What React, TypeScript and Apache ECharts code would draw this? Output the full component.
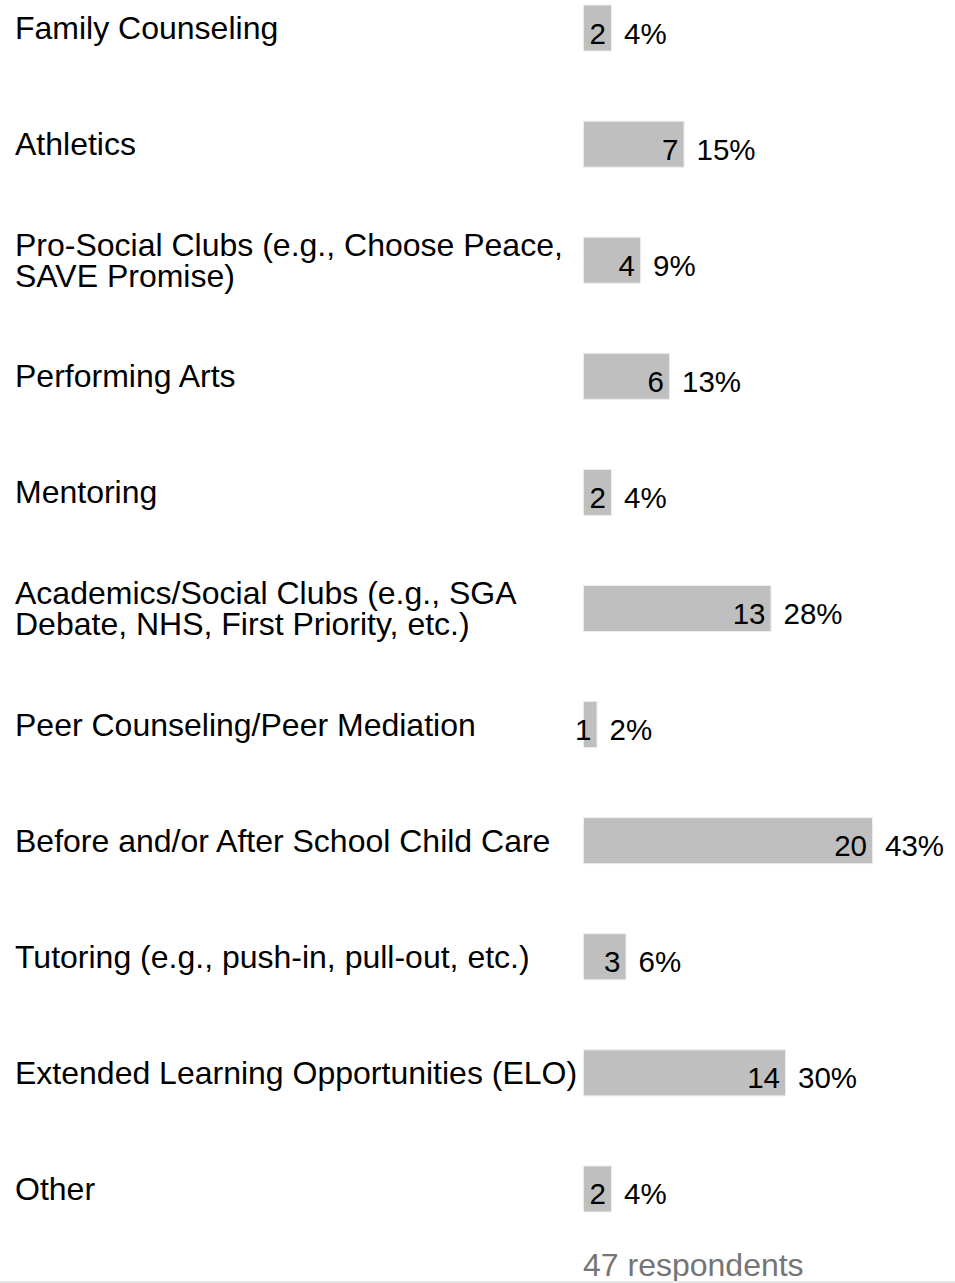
import React, { useEffect, useRef } from "react";
import * as echarts from "echarts";

const categories = [
  "Family Counseling",
  "Athletics",
  "Pro-Social Clubs (e.g., Choose Peace,\nSAVE Promise)",
  "Performing Arts",
  "Mentoring",
  "Academics/Social Clubs (e.g., SGA\nDebate, NHS, First Priority, etc.)",
  "Peer Counseling/Peer Mediation",
  "Before and/or After School Child Care",
  "Tutoring (e.g., push-in, pull-out, etc.)",
  "Extended Learning Opportunities (ELO)",
  "Other",
];
const counts = [2, 7, 4, 6, 2, 13, 1, 20, 3, 14, 2];
const percents = [4, 15, 9, 13, 4, 28, 2, 43, 6, 30, 4];
const respondents = 47;

const FONT = "'Liberation Sans', Arial, Helvetica, sans-serif";
const SHIFT = 30;

export default function App() {
  const ref = useRef<HTMLDivElement>(null);
  useEffect(() => {
    if (!ref.current) return;
    const chart = echarts.init(ref.current, null, { renderer: "svg" });
    chart.setOption({
      animation: false,
      backgroundColor: "#ffffff",
      grid: { left: 583, width: 290, top: 0, height: 1277 },
      xAxis: {
        type: "value",
        min: 0,
        max: 20,
        show: false,
      },
      yAxis: {
        type: "category",
        data: categories,
        inverse: true,
        axisLine: { show: false },
        axisTick: { show: false },
        splitLine: { show: false },
        axisLabel: {
          align: "left",
          margin: 568,
          fontSize: 32,
          lineHeight: 31,
          color: "#000000",
          fontFamily: FONT,
          padding: [3, 0, 0, 0],
        },
      },
      series: [
        {
          type: "bar",
          data: counts,
          barWidth: 47,
          itemStyle: { color: "#bfbfbf", borderColor: "#ececec", borderWidth: 1 },
          label: {
            show: true,
            position: "insideRight",
            distance: 6,
            offset: [0, 5],
            fontSize: 29.5,
            color: "#000000",
            fontFamily: FONT,
          },
        },
        {
          type: "bar",
          data: counts,
          barWidth: 47,
          barGap: "-100%",
          silent: true,
          itemStyle: { color: "rgba(0,0,0,0)" },
          label: {
            show: true,
            position: "right",
            distance: 12,
            offset: [0, 5],
            fontSize: 29.5,
            color: "#000000",
            fontFamily: FONT,
            formatter: (p: any) => percents[p.dataIndex] + "%",
          },
        },
      ],
      graphic: [
        {
          type: "text",
          left: 583,
          top: 1249 + SHIFT,
          style: {
            text: respondents + " respondents",
            fontSize: 32,
            fill: "#757575",
            fontFamily: FONT,
          },
        },
        {
          type: "rect",
          left: 0,
          top: 1281 + SHIFT,
          shape: { width: 955, height: 2 },
          style: { fill: "#e6e6e6" },
        },
      ],
    });
    return () => chart.dispose();
  }, []);
  return (
    <div
      ref={ref}
      style={{ position: "fixed", left: 0, top: -SHIFT, width: 955, height: 1283 + SHIFT }}
    />
  );
}
